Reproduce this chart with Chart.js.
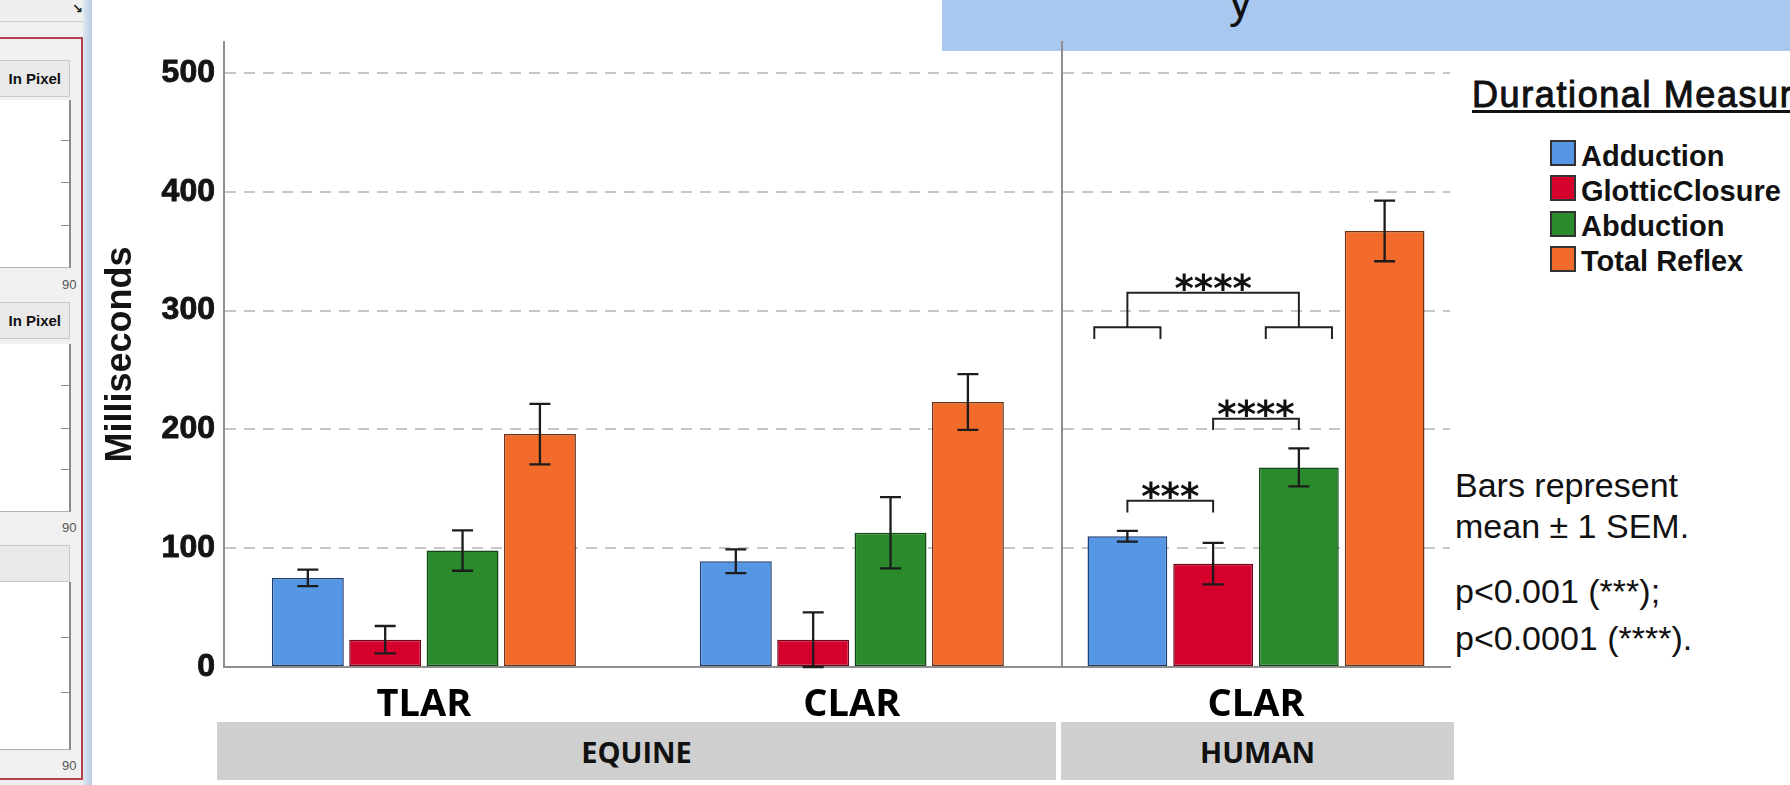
<!DOCTYPE html>
<html><head><meta charset="utf-8">
<script src="https://cdn.jsdelivr.net/npm/chart.js@4.4.0/dist/chart.umd.min.js"></script>
<style>
html,body{margin:0;padding:0;background:#fff;}
body{width:1790px;height:785px;position:relative;overflow:hidden;font-family:"Liberation Sans",Arial,sans-serif;}
.abs{position:absolute;}
.band{position:absolute;top:722px;height:58px;background:#d0cfcf;display:flex;align-items:center;justify-content:center;font:bold 29px "Open Sans",sans-serif;color:#111;}
.btn{position:absolute;left:0;width:70px;height:37px;background:#e9e9e9;border:1px solid #c9c9c9;border-left:none;box-sizing:border-box;font:bold 15px "Liberation Sans",Arial,sans-serif;color:#111;display:flex;align-items:center;justify-content:flex-end;padding-right:8px;}
.plot{position:absolute;left:0;width:71px;background:#fff;border-right:2px solid #8a8a8a;border-bottom:1px solid #b0b0b0;box-sizing:border-box;}
.tk{position:absolute;right:0;width:8px;height:1px;background:#8a8a8a;}
.n90{position:absolute;left:62px;font:13px "Liberation Sans",Arial,sans-serif;color:#555;}
.note{position:absolute;left:1455px;font:34px/34px "Liberation Sans",Arial,sans-serif;color:#111;white-space:nowrap;}
</style></head><body>

<!-- left UI fragment -->
<div class="abs" style="left:0;top:0;width:83px;height:785px;background:#f0f0f0;"></div>
<div class="abs" style="left:0;top:0;width:92px;height:21px;background:#efefef;border-bottom:1px solid #cfcfcf;"></div>
<div class="abs" style="left:72px;top:1px;font:bold 13px 'DejaVu Sans';color:#222;">↘</div>
<div class="abs" style="left:83px;top:0;width:9px;height:785px;background:linear-gradient(90deg,#dfe8f3,#b7c9e0);"></div>
<div class="abs" style="left:-3px;top:37px;width:86px;height:743px;border:2px solid #b8404c;box-sizing:border-box;"></div>
<div class="btn" style="top:60px;">In Pixel</div>
<div class="plot" style="top:100px;height:168px;"><div class="tk" style="top:40px"></div><div class="tk" style="top:82px"></div><div class="tk" style="top:125px"></div></div>
<div class="n90" style="top:277px;">90</div>
<div class="btn" style="top:302px;">In Pixel</div>
<div class="plot" style="top:344px;height:168px;"><div class="tk" style="top:41px"></div><div class="tk" style="top:84px"></div><div class="tk" style="top:125px"></div></div>
<div class="n90" style="top:520px;">90</div>
<div class="btn" style="top:545px;"></div>
<div class="plot" style="top:582px;height:168px;"><div class="tk" style="top:55px"></div><div class="tk" style="top:110px"></div></div>
<div class="n90" style="top:758px;">90</div>

<!-- top blue header fragment -->
<div class="abs" style="left:942px;top:0;width:848px;height:51px;background:#a9c8f0;overflow:hidden;">
  <div class="abs" style="left:287px;top:-22px;font:46px/46px 'Liberation Sans',Arial,sans-serif;color:#111;">y</div>
</div>

<!-- group bands -->
<div class="band" id="bandEq" style="left:217px;width:839px;"></div>
<div class="band" id="bandHu" style="left:1061px;width:393px;"></div>

<canvas id="eq" class="abs" width="1064" height="785" style="left:0;top:0;"></canvas>
<canvas id="hu" class="abs" width="402" height="785" style="left:1050px;top:0;"></canvas>

<!-- legend -->
<div class="abs" id="legTitle" style="left:1472px;top:77px;font:36px/36px 'Liberation Sans',Arial,sans-serif;letter-spacing:1.6px;-webkit-text-stroke:1px #111;white-space:nowrap;text-decoration:underline;text-decoration-thickness:2.5px;text-underline-offset:3px;color:#111;"></div>
<div id="legend"></div>

<div class="note" style="top:468px;">Bars represent</div>
<div class="note" style="top:509px;">mean ± 1 SEM.</div>
<div class="note" style="top:574px;">p&lt;0.001 (***);</div>
<div class="note" style="top:621px;">p&lt;0.0001 (****).</div>

<script>
// ---- data ----
const categories = ['TLAR', 'CLAR', 'CLAR'];
const groupNames = ['EQUINE', 'HUMAN'];
const seriesNames = ['Adduction', 'GlotticClosure', 'Abduction', 'Total Reflex'];
const legendTitle = 'Durational Measures';
const adduction = [75, 89, 110];
const glotticClosure = [23, 23, 87];
const abduction = [98, 113, 168];
const totalReflex = [196, 223, 367];
const adductionSem = [7, 10, 4.5];
const glotticClosureSem = [11.5, 23, 17.5];
const abductionSem = [17, 30, 16];
const totalReflexSem = [25.5, 23.5, 25.5];
const yTicks = [0, 100, 200, 300, 400, 500];
const yMax = 526;
// significance brackets for the human group (levels in ms)
const brackets = [
  {kind: 'pair', from: 0, to: 1, level: 140, drop: 10, label: '***'},
  {kind: 'pair', from: 1, to: 2, level: 209, drop: 9.5, label: '****'},
  {kind: 'group', from: 0, to: 2, level: 315, sub: 286, drop: 10, label: '****'}
];

// ---- styles ----
const fills = ['#5597e4', '#d6002d', '#2b8a2c', '#f26b2b'];
const edges = ['#1d3e73', '#6d0417', '#134617', '#6e3214'];
const values = [adduction, glotticClosure, abduction, totalReflex];
const sems = [adductionSem, glotticClosureSem, abductionSem, totalReflexSem];

document.getElementById('bandEq').textContent = groupNames[0];
document.getElementById('bandHu').textContent = groupNames[1];
document.getElementById('legTitle').textContent = legendTitle;
const leg = document.getElementById('legend');
seriesNames.forEach((n, i) => {
  const top = 140 + i * 35.3;
  const b = document.createElement('div');
  b.className = 'abs';
  b.style.cssText = `left:1550px;top:${top}px;width:26px;height:26px;box-sizing:border-box;border:2px solid #333;background:${fills[i]};`;
  leg.appendChild(b);
  const t = document.createElement('div');
  t.className = 'abs';
  t.style.cssText = `left:1581px;top:${top + 1.5}px;font:bold 29px/29px 'Liberation Sans',Arial,sans-serif;color:#111;white-space:nowrap;`;
  t.textContent = n;
  leg.appendChild(t);
});

const errorBars = {
  id: 'errorBars',
  afterDatasetsDraw(chart) {
    const {ctx} = chart; const y = chart.scales.y;
    ctx.save();
    ctx.strokeStyle = '#1c1c1c'; ctx.lineWidth = 2.3;
    chart.data.datasets.forEach((ds, i) => {
      chart.getDatasetMeta(i).data.forEach((bar, j) => {
        const v = ds.yVals[j], e = ds.sem[j];
        const yt = y.getPixelForValue(v + e), yb = y.getPixelForValue(Math.max(0, v - e));
        ctx.beginPath();
        ctx.moveTo(bar.x, yt); ctx.lineTo(bar.x, yb);
        ctx.moveTo(bar.x - 10.5, yt); ctx.lineTo(bar.x + 10.5, yt);
        ctx.moveTo(bar.x - 10.5, yb); ctx.lineTo(bar.x + 10.5, yb);
        ctx.stroke();
      });
    });
    ctx.restore();
  }
};

const sigPlugin = {
  id: 'sig',
  afterDatasetsDraw(chart) {
    const {ctx} = chart; const y = chart.scales.y;
    const bx = i => chart.getDatasetMeta(i).data[0].x;
    const bw = chart.getDatasetMeta(0).data[0].width;
    const fs = 37;
    ctx.save();
    ctx.strokeStyle = '#222'; ctx.lineWidth = 2; ctx.lineJoin = 'miter';
    ctx.fillStyle = '#111';
    ctx.font = 'bold ' + fs + 'px "DejaVu Sans"';
    ctx.textAlign = 'center'; ctx.textBaseline = 'alphabetic';
    const star = (x, yl, txt) => ctx.fillText(txt, x, yl - 11 + 0.52 * fs);
    brackets.forEach(b => {
      const xs = bx(b.from), xe = bx(b.to);
      const yl = y.getPixelForValue(b.level);
      if (b.kind === 'pair') {
        const yd = y.getPixelForValue(b.level - b.drop);
        ctx.beginPath();
        ctx.moveTo(xs, yd); ctx.lineTo(xs, yl); ctx.lineTo(xe, yl); ctx.lineTo(xe, yd);
        ctx.stroke();
      } else {
        const ys = y.getPixelForValue(b.sub), yd = y.getPixelForValue(b.sub - b.drop);
        ctx.beginPath();
        ctx.moveTo(xs, ys); ctx.lineTo(xs, yl); ctx.lineTo(xe, yl); ctx.lineTo(xe, ys);
        [xs, xe].forEach(c => {
          const h = bw * 0.415;
          ctx.moveTo(c - h, yd); ctx.lineTo(c - h, ys); ctx.lineTo(c + h, ys); ctx.lineTo(c + h, yd);
        });
        ctx.stroke();
      }
      star((xs + xe) / 2, yl, b.label);
    });
    ctx.restore();
  }
};

function makeDatasets(from, to, catPct, barPct, asPoints) {
  return seriesNames.map((n, i) => {
    const ys = values[i].slice(from, to);
    return {
      label: n,
      data: asPoints ? ys.map((v, j) => ({x: j, y: v})) : ys,
      yVals: ys,
      sem: sems[i].slice(from, to),
      backgroundColor: fills[i],
      borderColor: edges[i],
      borderWidth: 1.5,
      borderSkipped: false,
      categoryPercentage: catPct,
      barPercentage: barPct
    };
  });
}

function yScale(showLabels, width) {
  return {
    min: 0, max: yMax,
    afterFit: s => { s.width = width; },
    afterBuildTicks: s => { s.ticks = yTicks.map(v => ({value: v})); },
    ticks: {display: showLabels, padding: 9, color: '#141414', textStrokeColor: '#141414', textStrokeWidth: 0.9, font: {family: 'Liberation Sans', weight: 'bold', size: 32}},
    grid: {drawTicks: false, lineWidth: 2, color: c => (c.tick && c.tick.value === 0) ? 'rgba(0,0,0,0)' : '#c6c6c6'},
    border: {display: true, color: '#8e8e8e', width: 2, dash: [11, 8]},
    title: showLabels ? {display: true, text: 'Milliseconds', color: '#141414', font: {family: 'Liberation Sans', weight: 'bold', size: 36}, padding: {top: 99, bottom: 0}} : {display: false}
  };
}
const xTickStyle = {padding: 15, color: '#000', font: {family: 'Open Sans', weight: 'bold', size: 38}, maxRotation: 0, minRotation: 0};
const common = {
  responsive: false, animation: false, devicePixelRatio: 1,
  plugins: {legend: {display: false}, tooltip: {enabled: false}}
};

// Equine panel: numeric x positions (0 = TLAR, 1 = CLAR) so the groups sit where the original places them
new Chart(document.getElementById('eq'), {
  type: 'bar',
  data: {datasets: makeDatasets(0, 2, 0.723, 0.93, true)},
  options: Object.assign({}, common, {
    layout: {padding: {top: 42, right: 2, left: 0, bottom: 0}},
    scales: {
      x: {
        type: 'linear', offset: false, min: -0.467, max: 1.491,
        afterFit: s => { s.height = 118; },
        afterBuildTicks: s => { s.ticks = categories.slice(0, 2).map((c, j) => ({value: j})); },
        ticks: Object.assign({}, xTickStyle, {callback: v => categories[v]}),
        grid: {display: false, drawTicks: false},
        border: {display: true, color: '#8e8e8e', width: 2}
      },
      y: yScale(true, 224)
    }
  }),
  plugins: [errorBars]
});

new Chart(document.getElementById('hu'), {
  type: 'bar',
  data: {labels: categories.slice(2), datasets: makeDatasets(2, 3, 0.884, 0.93, false)},
  options: Object.assign({}, common, {
    layout: {padding: {top: 42, right: 2, left: 0, bottom: 0}},
    scales: {
      x: {
        afterFit: s => { s.height = 118; },
        ticks: xTickStyle,
        grid: {display: false, drawTicks: false},
        border: {display: true, color: '#8e8e8e', width: 2}
      },
      y: yScale(false, 12)
    }
  }),
  plugins: [errorBars, sigPlugin]
});
</script>
</body></html>
